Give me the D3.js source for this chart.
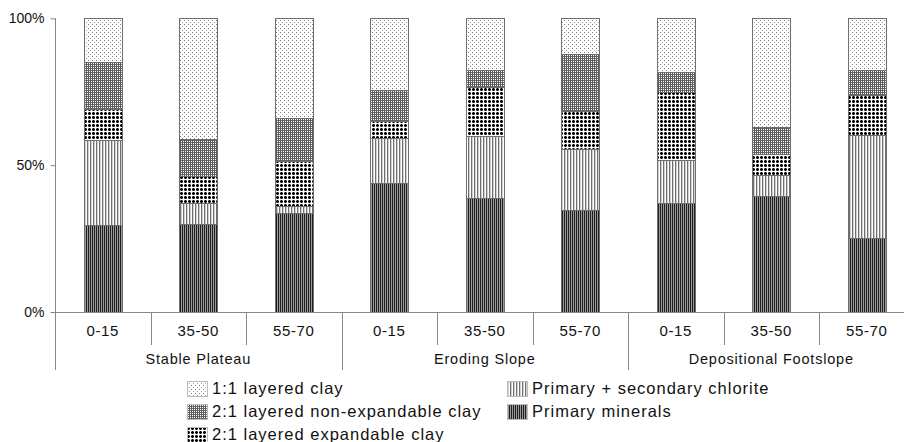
<!DOCTYPE html>
<html>
<head>
<meta charset="utf-8">
<script src="https://cdn.jsdelivr.net/npm/d3@7"></script>
<style>
  html, body { margin: 0; padding: 0; background: #fff; }
  svg { display: block; font-family: "Liberation Sans", Arial, sans-serif; }
</style>
</head>
<body>
<svg id="chart" width="904" height="442"></svg>
<script>
// Landscape positions and sampling depths (cm)
const groups = ["Stable Plateau", "Eroding Slope", "Depositional Footslope"];
const depths = ["0-15", "35-50", "55-70"];

// Mineral fractions (%) per profile, in order: plateau 0-15, 35-50, 55-70, slope ..., footslope ...
const primaryMinerals  = [29.6, 29.9, 33.6, 43.8, 38.7, 34.7, 37.1, 39.5, 25.3];
const chlorite         = [28.9,  7.3,  2.5, 15.3, 21.3, 20.7, 14.5,  7.3, 34.9];
const expandableClay   = [10.5,  9.1, 15.4,  5.8, 16.7, 13.0, 23.4,  7.0, 13.6];
const nonExpandable    = [16.1, 12.5, 14.4, 10.6,  5.7, 19.5,  6.7,  9.2,  8.6];
const layered11        = [14.9, 41.2, 34.1, 24.5, 17.6, 12.1, 18.3, 37.0, 17.6];

const yTicks = [0, 50, 100];

const seriesNames = [
  "Primary minerals",
  "Primary + secondary chlorite",
  "2:1 layered expandable clay",
  "2:1 layered non-expandable clay",
  "1:1 layered clay"
];
const seriesValues = [primaryMinerals, chlorite, expandableClay, nonExpandable, layered11];
const seriesKeys = ["prim", "chl", "exp", "nonexp", "kao"];

// Row table for d3.stack
const rows = [];
groups.forEach((g, gi) => depths.forEach((d, di) => {
  const i = gi * depths.length + di;
  const row = { id: g + "|" + d, group: g, depth: d };
  seriesKeys.forEach((k, si) => { row[k] = seriesValues[si][i]; });
  rows.push(row);
}));

const svg = d3.select("#chart");
const defs = svg.append("defs");

// Monochrome fill patterns
function pattern(id, w, h, draw) {
  const p = defs.append("pattern").attr("id", id)
    .attr("patternUnits", "userSpaceOnUse").attr("width", w).attr("height", h);
  p.append("rect").attr("width", w).attr("height", h).attr("fill", "#fff");
  draw(p);
}
function px(p, x, y, w, h, c) {
  p.append("rect").attr("x", x).attr("y", y).attr("width", w).attr("height", h).attr("fill", c);
}
// 1:1 clay: sparse light dots
pattern("pat-kao", 4, 4, p => { px(p, 0, 0, 1, 1, "#7c7c7c"); px(p, 2, 2, 1, 1, "#a0a0a0"); });
// non-expandable: fine grid
pattern("pat-nonexp", 2, 2, p => { px(p, 0, 0, 2, 1, "#6a6a6a"); px(p, 0, 0, 1, 2, "#5a5a5a"); });
// expandable: bold black dots
pattern("pat-exp", 4, 4, p => {
  px(p, 0, 0, 3, 3, "#777");
  px(p, 1, 0, 1, 3, "#000");
  px(p, 0, 1, 3, 1, "#000");
});
// chlorite: light vertical lines
pattern("pat-chl", 3, 3, p => { px(p, 0, 0, 1, 3, "#707070"); px(p, 1, 0, 1, 3, "#d0d0d0"); });
// primary minerals: dense dark vertical lines
pattern("pat-prim", 2, 2, p => { px(p, 0, 0, 1, 2, "#1e1e1e"); px(p, 1, 0, 1, 2, "#9a9a9a"); });

const plotLeft = 55;
const step = 95.5;
const x = d3.scaleBand()
  .domain(rows.map(r => r.id))
  .range([plotLeft, plotLeft + step * rows.length])
  .paddingInner(0.6).paddingOuter(0.3);
const y = d3.scaleLinear().domain([0, 100]).range([312, 18.3]);

const stacked = d3.stack().keys(seriesKeys)(rows);

const axisColor = "#878787";

// Bars
svg.append("g").selectAll("g")
  .data(stacked)
  .join("g")
  .attr("fill", d => "url(#pat-" + d.key + ")")
  .selectAll("rect")
  .data(d => d)
  .join("rect")
  .attr("x", d => Math.round(x(d.data.id)) + 0.5)
  .attr("y", d => Math.round(y(d[1])) + 0.5)
  .attr("width", Math.round(x.bandwidth()))
  .attr("height", d => Math.round(y(d[0])) - Math.round(y(d[1])))
  .attr("stroke", "#6e6e6e")
  .attr("stroke-width", 1);

// Y axis
const yAxis = svg.append("g")
  .attr("transform", `translate(${plotLeft + 0.5},0)`)
  .call(d3.axisLeft(y).tickValues(yTicks).tickFormat(d => d + "%").tickSize(5).tickPadding(6));
yAxis.select(".domain").attr("stroke", axisColor).attr("d", `M0,${y(100)}V370`);
yAxis.selectAll(".tick line").attr("stroke", axisColor);
yAxis.selectAll(".tick text")
  .attr("font-size", 14).attr("fill", "#111").attr("font-family", "Liberation Sans, Arial, sans-serif");

// X axis baseline
svg.append("line")
  .attr("x1", plotLeft).attr("x2", 904)
  .attr("y1", 312.5).attr("y2", 312.5)
  .attr("stroke", axisColor);

// Category dividers: inner ones short, group ones long
const xAxisG = svg.append("g");
d3.range(1, rows.length).forEach(k => {
  const isGroup = k % depths.length === 0;
  const xx = Math.round(plotLeft + k * x.step()) + 0.5;
  xAxisG.append("line")
    .attr("x1", xx).attr("x2", xx)
    .attr("y1", 312).attr("y2", isGroup ? 370 : 345)
    .attr("stroke", axisColor);
});

// Depth labels
xAxisG.selectAll("text.depth")
  .data(rows)
  .join("text")
  .attr("class", "depth")
  .attr("x", d => x(d.id) + x.bandwidth() / 2)
  .attr("y", 336)
  .attr("text-anchor", "middle")
  .attr("font-size", 15)
  .attr("letter-spacing", 0.6)
  .attr("fill", "#111")
  .text(d => d.depth);

// Group labels
xAxisG.selectAll("text.group")
  .data(groups)
  .join("text")
  .attr("class", "group")
  .attr("x", (g, gi) => plotLeft + (gi * depths.length + depths.length / 2) * x.step())
  .attr("y", 364)
  .attr("text-anchor", "middle")
  .attr("font-size", 14.5)
  .attr("letter-spacing", 0.8)
  .attr("fill", "#111")
  .text(d => d);

// Legend
const legendItems = [
  { key: "kao", name: seriesNames[4], col: 0, row: 0 },
  { key: "nonexp", name: seriesNames[3], col: 0, row: 1 },
  { key: "exp", name: seriesNames[2], col: 0, row: 2 },
  { key: "chl", name: seriesNames[1], col: 1, row: 0 },
  { key: "prim", name: seriesNames[0], col: 1, row: 1 }
];
const legendCols = [187, 507];
const legend = svg.append("g");
const li = legend.selectAll("g").data(legendItems).join("g")
  .attr("transform", d => `translate(${legendCols[d.col]},${381 + d.row * 23})`);
li.append("rect")
  .attr("x", 0.5).attr("y", 0.5).attr("width", 20).attr("height", 15)
  .attr("fill", d => "url(#pat-" + d.key + ")")
  .attr("stroke", "#bbb");
li.append("text")
  .attr("x", 25).attr("y", 13)
  .attr("font-size", 16.5)
  .attr("letter-spacing", 1.0)
  .attr("fill", "#111")
  .text(d => d.name);
</script>
</body>
</html>
